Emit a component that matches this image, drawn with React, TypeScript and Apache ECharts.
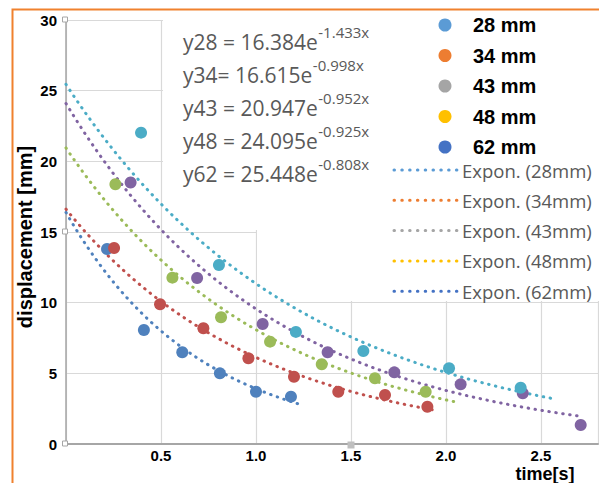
import React, { useEffect, useRef } from 'react';
import * as echarts from 'echarts';

const seriesNames = ['28 mm', '34 mm', '43 mm', '48 mm', '62 mm'];
const trendNames = ['Expon. (28mm)', 'Expon. (34mm)', 'Expon. (43mm)', 'Expon. (48mm)', 'Expon. (62mm)'];
const legendColors = ['#5B9BD5', '#ED7D31', '#A5A5A5', '#FFC000', '#4472C4'];
const pointColors = ['#4F81BD', '#C0504D', '#9BBB59', '#8064A2', '#4BACC6'];

const points28 = [[0.216, 13.8], [0.41, 8.07], [0.612, 6.49], [0.81, 5.0], [1.0, 3.7], [1.184, 3.35]];
const points34 = [[0.253, 13.87], [0.495, 9.89], [0.723, 8.19], [0.96, 6.06], [1.2, 4.76], [1.433, 3.7], [1.679, 3.47], [1.902, 2.64]];
const points43 = [[0.26, 18.38], [0.56, 11.77], [0.816, 8.97], [1.074, 7.24], [1.346, 5.64], [1.626, 4.65], [1.893, 3.7]];
const points48 = [[0.34, 18.5], [0.69, 11.75], [1.035, 8.49], [1.377, 6.49], [1.728, 5.07], [2.077, 4.22], [2.404, 3.59], [2.709, 1.34]];
const points62 = [[0.395, 22.03], [0.805, 12.67], [1.21, 7.93], [1.565, 6.58], [2.016, 5.36], [2.393, 3.98]];
const allPoints = [points28, points34, points43, points48, points62];

// exponential trend lines as printed on the chart: y = a * e^(-b x), drawn from x=0 to end
const fitA = [16.384, 16.615, 20.947, 24.095, 25.448];
const fitB = [1.433, 0.998, 0.952, 0.925, 0.808];
const fitEnd = [1.25, 1.94, 2.06, 2.69, 2.56];

const eqMain = ['y28 = 16.384e', 'y34= 16.615e', 'y43 = 20.947e', 'y48 = 24.095e', 'y62 = 25.448e'];
const eqExp = ['-1.433x', '-0.998x', '-0.952x', '-0.925x', '-0.808x'];

const EQ_FONT = '"Open Sans", sans-serif';
const BOLD_FONT = '"Liberation Sans", Arial, sans-serif';

function measure(text: string, font: string): number {
  const c = document.createElement('canvas').getContext('2d')!;
  c.font = font;
  return c.measureText(text).width;
}

export default function App() {
  const ref = useRef<HTMLDivElement>(null);
  useEffect(() => {
    document.body.style.margin = '0';
    const chart = echarts.init(ref.current!, undefined, { renderer: 'svg' });

    const trendSeries = fitA.map((a, i) => {
      const data: number[][] = [];
      const n = 120;
      for (let k = 0; k <= n; k++) {
        const x = (fitEnd[i] * k) / n;
        data.push([x, a * Math.exp(-fitB[i] * x)]);
      }
      return {
        name: trendNames[i],
        type: 'line',
        data,
        symbol: 'none',
        showSymbol: false,
        silent: true,
        z: 2,
        lineStyle: { color: pointColors[i], width: 3, type: [0.5, 6.5], cap: 'round' },
      };
    });

    const scatterSeries = allPoints.map((pts, i) => ({
      name: seriesNames[i],
      type: 'scatter',
      data: pts,
      symbol: 'circle',
      symbolSize: 12,
      z: 3,
      itemStyle: { color: pointColors[i], opacity: 1 },
    }));

    const graphics: any[] = [];
    // white boxes of the text boxes / legend that hide the gridlines
    graphics.push({ type: 'rect', z: 1, shape: { x: 163, y: 11, width: 440, height: 219 }, style: { fill: '#fff' } });
    graphics.push({ type: 'rect', z: 1, shape: { x: 257, y: 229, width: 346, height: 72 }, style: { fill: '#fff' } });

    // equations
    eqMain.forEach((t, i) => {
      const yc = 41.5 + 33.1 * i;
      const w = measure(t, `21px ${EQ_FONT}`);
      graphics.push({
        type: 'text', z: 10, x: 183, y: yc,
        style: { text: t, font: `21px ${EQ_FONT}`, fill: '#595959', verticalAlign: 'middle', align: 'left' },
      });
      graphics.push({
        type: 'text', z: 10, x: 183 + w + 0.5, y: yc - 9.5,
        style: { text: eqExp[i], font: `15px ${EQ_FONT}`, fill: '#595959', verticalAlign: 'middle', align: 'left' },
      });
    });

    // legend (points)
    seriesNames.forEach((t, i) => {
      const yc = 25 + 30.5 * i;
      graphics.push({ type: 'circle', z: 10, shape: { cx: 445, cy: yc, r: 6.5 }, style: { fill: legendColors[i] } });
      graphics.push({
        type: 'text', z: 10, x: 473, y: yc,
        style: { text: t, font: `bold 20px ${BOLD_FONT}`, fill: '#000', verticalAlign: 'middle', align: 'left' },
      });
    });

    // legend (trend lines)
    trendNames.forEach((t, i) => {
      const yc = 170 + 30.3 * i;
      graphics.push({
        type: 'line', z: 10, shape: { x1: 394, y1: yc, x2: 457, y2: yc },
        style: { stroke: legendColors[i], lineWidth: 3, lineDash: [0.5, 7.3], lineCap: 'round' },
      });
      graphics.push({
        type: 'text', z: 10, x: 462, y: yc,
        style: { text: t, font: `18.5px ${EQ_FONT}`, fill: '#595959', verticalAlign: 'middle', align: 'left' },
      });
    });

    // axis names
    graphics.push({
      type: 'text', z: 10, x: 25, y: 237, rotation: Math.PI / 2,
      style: { text: 'displacement [mm]', font: `bold 20px ${BOLD_FONT}`, fill: '#000', align: 'center', verticalAlign: 'middle' },
    });
    graphics.push({
      type: 'text', z: 10, x: 545, y: 473.5,
      style: { text: 'time[s]', font: `bold 18px ${BOLD_FONT}`, fill: '#000', align: 'center', verticalAlign: 'middle' },
    });

    // plot-area handles
    [17, 229, 441].forEach((yy) => {
      graphics.push({ type: 'rect', z: 10, shape: { x: 62.5, y: yy, width: 5, height: 5 }, style: { fill: '#fff', stroke: '#A6A6A6', lineWidth: 1 } });
    });
    graphics.push({ type: 'rect', z: 10, shape: { x: 347.5, y: 441.5, width: 7, height: 7 }, style: { fill: '#BFBFBF' } });

    // orange frame
    graphics.push({ type: 'rect', z: 11, shape: { x: 12.5, y: 9.5, width: 900, height: 900 }, style: { fill: 'none', stroke: '#F0812E', lineWidth: 2 } });

    chart.setOption({
      animation: false,
      backgroundColor: '#fff',
      grid: { left: 66, top: 20, right: 1, bottom: 39, containLabel: false },
      xAxis: {
        type: 'value', min: 0, max: 2.8, interval: 0.5,
        axisLine: { show: true, lineStyle: { color: '#A6A6A6', width: 2 } },
        axisTick: { show: false },
        axisLabel: {
          margin: 4, fontSize: 15, fontWeight: 'bold', color: '#000', fontFamily: BOLD_FONT,
          showMaxLabel: false,
          formatter: (v: number) => (v > 0.1 && v < 2.6 ? v.toFixed(1) : ''),
        },
        splitLine: { show: true, lineStyle: { color: '#D9D9D9', width: 1.2 } },
      },
      yAxis: {
        type: 'value', min: 0, max: 30, interval: 5,
        axisLine: { show: true, lineStyle: { color: '#A6A6A6', width: 1.5 } },
        axisTick: { show: false },
        axisLabel: { margin: 9, fontSize: 15, fontWeight: 'bold', color: '#000', fontFamily: BOLD_FONT },
        splitLine: { show: true, lineStyle: { color: '#D9D9D9', width: 1.2 } },
      },
      series: [...trendSeries, ...scatterSeries],
      graphic: { elements: graphics },
    });

    return () => chart.dispose();
  }, []);
  return <div ref={ref} style={{ width: 599, height: 483 }} />;
}
